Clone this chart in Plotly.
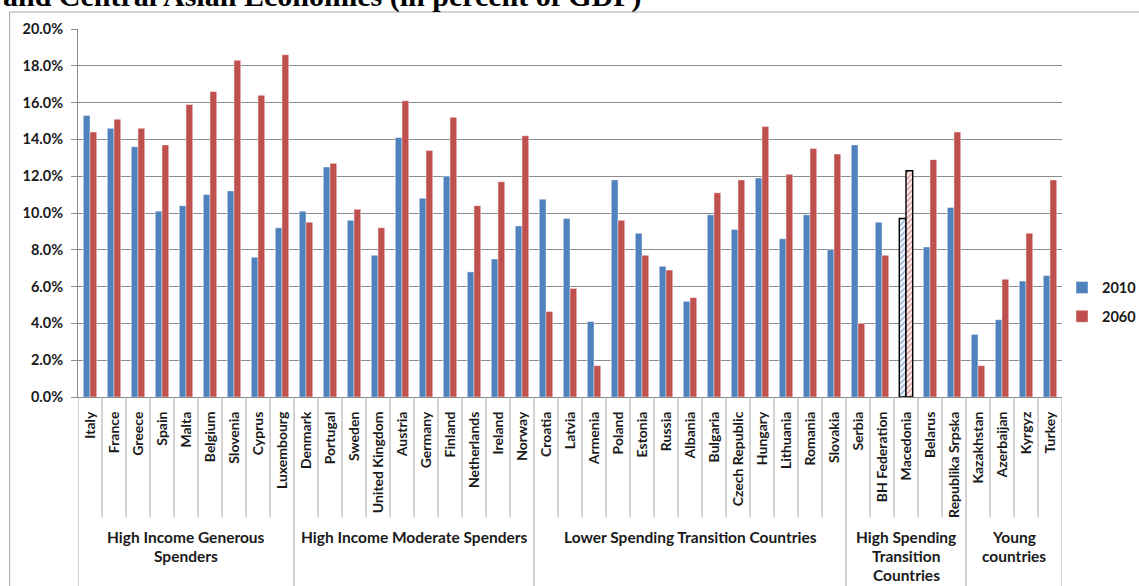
import plotly.graph_objects as go

# ---------------- data ----------------
countries = [
    "Italy", "France", "Greece", "Spain", "Malta", "Belgium", "Slovenia", "Cyprus", "Luxembourg",
    "Denmark", "Portugal", "Sweden", "United Kingdom", "Austria", "Germany", "Finland",
    "Netherlands", "Ireland", "Norway",
    "Croatia", "Latvia", "Armenia", "Poland", "Estonia", "Russia", "Albania", "Bulgaria",
    "Czech Republic", "Hungary", "Lithuania", "Romania", "Slovakia",
    "Serbia", "BH Federation", "Macedonia", "Belarus", "Republika Srpska",
    "Kazakhstan", "Azerbaijan", "Kyrgyz", "Turkey",
]
values_2010 = [
    15.3, 14.6, 13.6, 10.1, 10.4, 11.0, 11.2, 7.6, 9.2,
    10.1, 12.5, 9.6, 7.7, 14.1, 10.8, 12.0, 6.8, 7.5, 9.3,
    10.75, 9.7, 4.1, 11.8, 8.9, 7.1, 5.2, 9.9, 9.1, 11.9, 8.6, 9.9, 8.0,
    13.7, 9.5, 9.7, 8.15, 10.3,
    3.4, 4.2, 6.3, 6.6,
]
values_2060 = [
    14.4, 15.1, 14.6, 13.7, 15.9, 16.6, 18.3, 16.4, 18.6,
    9.5, 12.7, 10.2, 9.2, 16.1, 13.4, 15.2, 10.4, 11.7, 14.2,
    4.65, 5.9, 1.7, 9.6, 7.7, 6.9, 5.4, 11.1, 11.8, 14.7, 12.1, 13.5, 13.2,
    4.0, 7.7, 12.3, 12.9, 14.4,
    1.7, 6.4, 8.9, 11.8,
]
group_labels = [
    ["High Income Generous", "Spenders"],
    ["High Income Moderate Spenders"],
    ["Lower Spending Transition Countries"],
    ["High Spending", "Transition", "Countries"],
    ["Young", "countries"],
]
group_sizes = [9, 10, 13, 5, 4]
highlighted = ["Macedonia"]
series_names = ["2010", "2060"]
y_ticks = [0, 2, 4, 6, 8, 10, 12, 14, 16, 18, 20]
y_tick_text = ["0.0%", "2.0%", "4.0%", "6.0%", "8.0%", "10.0%", "12.0%", "14.0%",
               "16.0%", "18.0%", "20.0%"]
title_text = "and Central Asian Economies (in percent of GDP)"

# ---------------- layout constants ----------------
W, H = 1139, 586
L, R, T, B = 78, 1064, 29, 397
BLUE, RED = "#4F81BD", "#C0504D"
GRID = "#8C8C8C"
SEP = "#A6A6A6"
FONT = "Lato"
TXT = "#1a1a1a"


def px_x(p):
    return (p - L) / (R - L)


def px_y(p):
    return (B - p) / (B - T)


def bar_style(color):
    shapes = ["/" if c in highlighted else "" for c in countries]
    lcol = ["black" if c in highlighted else "rgba(255,255,255,0.55)" for c in countries]
    lw = [1.4 if c in highlighted else 0.8 for c in countries]
    return dict(
        color=color,
        line=dict(color=lcol, width=lw),
        pattern=dict(shape=shapes, fgcolor=color, bgcolor="white", size=4, solidity=0.55),
    )


fig = go.Figure()
fig.add_trace(go.Bar(x=countries, y=values_2010, name=series_names[0],
                     marker=bar_style(BLUE), legendgroup="a"))
fig.add_trace(go.Bar(x=countries, y=values_2060, name=series_names[1],
                     marker=bar_style(RED), legendgroup="b"))

shapes = []
# frame
shapes.append(dict(type="line", xref="paper", yref="paper", x0=px_x(9.5), x1=px_x(1145),
                   y0=px_y(12), y1=px_y(12), line=dict(color=SEP, width=1)))
shapes.append(dict(type="line", xref="paper", yref="paper", x0=px_x(9.5), x1=px_x(9.5),
                   y0=px_y(12), y1=px_y(600), line=dict(color=SEP, width=1)))

# separators
boundaries = [0]
for s in group_sizes:
    boundaries.append(boundaries[-1] + s)
n = len(countries)
for i in range(1, n):
    if i in boundaries:
        continue
    shapes.append(dict(type="line", xref="x", yref="paper", x0=i - 0.5, x1=i - 0.5,
                       y0=0, y1=px_y(517), line=dict(color=SEP, width=1)))
for b in boundaries:
    shapes.append(dict(type="line", xref="x", yref="paper", x0=b - 0.5, x1=b - 0.5,
                       y0=0, y1=px_y(600), line=dict(color=SEP, width=1)))

annotations = []
for gi, lines in enumerate(group_labels):
    center = (boundaries[gi] + boundaries[gi + 1] - 1) / 2
    for li, txt in enumerate(lines):
        annotations.append(dict(x=center, xref="x", y=px_y(537 + 19 * li), yref="paper",
                                text=txt, showarrow=False, xanchor="center", yanchor="middle",
                                font=dict(family=FONT, size=15.5, color=TXT, weight="bold")))

annotations.append(dict(x=px_x(1), xref="paper", y=px_y(15), yref="paper", text=title_text,
                        showarrow=False, xanchor="left", yanchor="bottom",
                        font=dict(family="Liberation Serif", size=30, color="black", weight="bold")))

fig.update_layout(
    width=W, height=H,
    margin=dict(l=L, r=W - R, t=T, b=H - B),
    paper_bgcolor="white", plot_bgcolor="white",
    barmode="group", bargap=0.44, bargroupgap=0,
    shapes=shapes, annotations=annotations,
    legend=dict(xref="container", yref="container", x=1062 / W, y=1 - 302 / H,
                xanchor="left", yanchor="middle",
                font=dict(family=FONT, size=14.5, color=TXT, weight="bold"),
                tracegroupgap=7, bgcolor="rgba(0,0,0,0)", itemwidth=30),
    showlegend=True,
)
fig.update_yaxes(range=[0, 20], tickmode="array", tickvals=y_ticks, ticktext=y_tick_text,
                 showgrid=True, gridcolor=GRID, gridwidth=1,
                 showline=True, linecolor=GRID, linewidth=1,
                 ticks="outside", ticklen=6, tickcolor=GRID, ticklabelstandoff=5,
                 tickfont=dict(family=FONT, size=14.5, color=TXT, weight="bold"),
                 zeroline=False, automargin=False)
fig.update_xaxes(range=[-0.5, n - 0.5], tickangle=-90, ticks="", showline=True,
                 linecolor=GRID, linewidth=1, ticklabelstandoff=8, automargin=False,
                 tickfont=dict(family=FONT, size=14, color=TXT, weight="bold"))

fig.write_html("out.html", config={"displayModeBar": False},
               post_script="document.body.style.margin='0';")
